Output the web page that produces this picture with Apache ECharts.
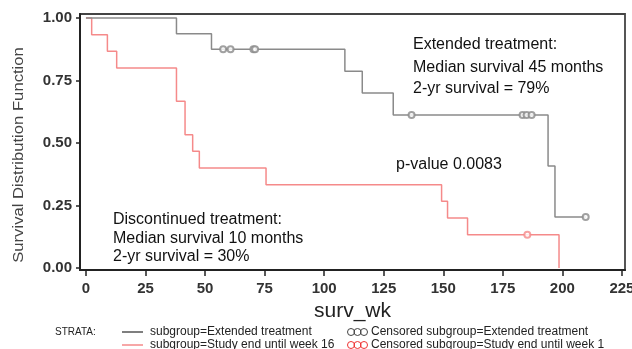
<!DOCTYPE html>
<html>
<head>
<meta charset="utf-8">
<script src="https://cdn.jsdelivr.net/npm/echarts@6/dist/echarts.min.js"></script>
<style>html,body{margin:0;padding:0;background:#fff}#c{width:632px;height:349px}</style>
</head>
<body>
<div id="c"></div>
<script>
// ---- data ----
const xTicks = [0, 25, 50, 75, 100, 125, 150, 175, 200, 225];
const yTicks = [0, 0.25, 0.5, 0.75, 1.0];
// Extended treatment: [week, survival]
const extTimes = [0, 38, 52.7, 108.7, 116, 129, 194, 196.9, 209.8];
const extSurv  = [1, 0.9375, 0.875, 0.7875, 0.7, 0.6125, 0.408, 0.204, 0.204];
const extCensTimes = [57.6, 60.7, 70.3, 71.0, 136.7, 183.3, 185.0, 187.1, 209.8];
const extCensSurv  = [0.875, 0.875, 0.875, 0.875, 0.6125, 0.6125, 0.6125, 0.6125, 0.204];
// Study end until week 16
const disTimes = [0, 2.4, 9, 12.9, 38, 41.6, 44.8, 47.6, 75.6, 149.3, 151.8, 160.2, 198.6];
const disSurv  = [1, 0.9333, 0.8667, 0.8, 0.6667, 0.5333, 0.4667, 0.4, 0.3333, 0.2667, 0.2, 0.1333, 0];
const disCensTimes = [185.3];
const disCensSurv  = [0.1333];

const zip = (a, b) => a.map((v, i) => [v, b[i]]);
const GRAY = '#8a8a8a', RED = '#f58a8a';
const FONT = '"Liberation Sans", Arial, sans-serif';

const chart = echarts.init(document.getElementById('c'), null, {renderer: 'canvas'});
const ann = (x, y, t) => ({type: 'text', x: x, y: y,
  style: {text: t, fontFamily: FONT, fontSize: 16, fill: '#111', verticalAlign: 'middle'}});
const circ = (cx, cy, c) => ({type: 'circle', shape: {cx: cx, cy: cy, r: 3.5},
  style: {fill: 'none', stroke: c, lineWidth: 1}});
const leg = (x, y, t) => ({type: 'text', x: x, y: y,
  style: {text: t, fontFamily: FONT, fontSize: 12, fill: '#222', verticalAlign: 'middle'}});
chart.setOption({
  animation: false,
  grid: {left: 80, right: 7, top: 14, bottom: 79, show: true, borderColor: '#444', borderWidth: 1.8, outerBoundsMode: 'none'},
  xAxis: {
    type: 'value', min: -2.5, max: 226.3,
    name: 'surv_wk', nameLocation: 'middle', nameGap: 30,
    nameTextStyle: {fontFamily: FONT, fontSize: 21, color: '#222'},
    axisLine: {onZero: false, lineStyle: {color: '#222', width: 2}},
    axisTick: {show: true, customValues: xTicks, length: 6, lineStyle: {color: '#222', width: 1.5}},
    axisLabel: {customValues: xTicks, margin: 11, fontFamily: FONT, fontSize: 15, fontWeight: 'bold', color: '#333'},
    splitLine: {show: false}
  },
  yAxis: {
    type: 'value', min: -0.008, max: 1.016,
    axisLine: {show: true, onZero: false, lineStyle: {color: '#222', width: 2}},
    axisTick: {show: true, customValues: yTicks, length: 4, lineStyle: {color: '#222', width: 1.5}},
    axisLabel: {customValues: yTicks, margin: 8, fontFamily: FONT, fontSize: 15, fontWeight: 'bold', color: '#333',
      formatter: v => v.toFixed(2)},
    splitLine: {show: false}
  },
  series: [
    {type: 'line', step: 'end', data: zip(extTimes, extSurv), showSymbol: false,
     lineStyle: {color: GRAY, width: 1.5}, z: 3},
    {type: 'line', step: 'end', data: zip(disTimes, disSurv), showSymbol: false,
     lineStyle: {color: RED, width: 1.5}, z: 2},
    {type: 'scatter', data: zip(extCensTimes, extCensSurv), symbol: 'emptyCircle', symbolSize: 6,
     itemStyle: {color: GRAY, borderColor: GRAY, borderWidth: 1}, z: 4},
    {type: 'scatter', data: zip(disCensTimes, disCensSurv), symbol: 'emptyCircle', symbolSize: 6,
     itemStyle: {color: RED, borderColor: RED, borderWidth: 1}, z: 4}
  ],
  graphic: [
    {type: 'text', x: 19, y: 155, rotation: Math.PI / 2, scaleX: 1.11,
     style: {text: 'Survival Distribution Function', fontFamily: FONT, fontSize: 15, fill: '#444', align: 'center', verticalAlign: 'middle'}},
    ann(413, 45, 'Extended treatment:'),
    ann(413, 68, 'Median survival 45 months'),
    ann(413, 89, '2-yr survival = 79%'),
    ann(396, 165, 'p-value 0.0083'),
    ann(113, 220, 'Discontinued treatment:'),
    ann(113, 239, 'Median survival 10 months'),
    ann(113, 257, '2-yr survival = 30%'),
    // legend
    {type: 'text', x: 55, y: 332, style: {text: 'STRATA:', fontFamily: FONT, fontSize: 10, fill: '#222', verticalAlign: 'middle'}},
    {type: 'line', shape: {x1: 122, y1: 332, x2: 143, y2: 332}, style: {stroke: '#555', lineWidth: 1.5}},
    leg(150, 332, 'subgroup=Extended treatment'),
    {type: 'line', shape: {x1: 122, y1: 345, x2: 143, y2: 345}, style: {stroke: RED, lineWidth: 1.5}},
    leg(150, 345, 'subgroup=Study end until week 16'),
    circ(351, 332, '#444'), circ(357.5, 332, '#444'), circ(364, 332, '#444'),
    leg(371, 332, 'Censored subgroup=Extended treatment'),
    circ(351, 345, '#e33'), circ(357.5, 345, '#e33'), circ(364, 345, '#e33'),
    leg(371, 345, 'Censored subgroup=Study end until week 1')
  ]
});
</script>
</body>
</html>
